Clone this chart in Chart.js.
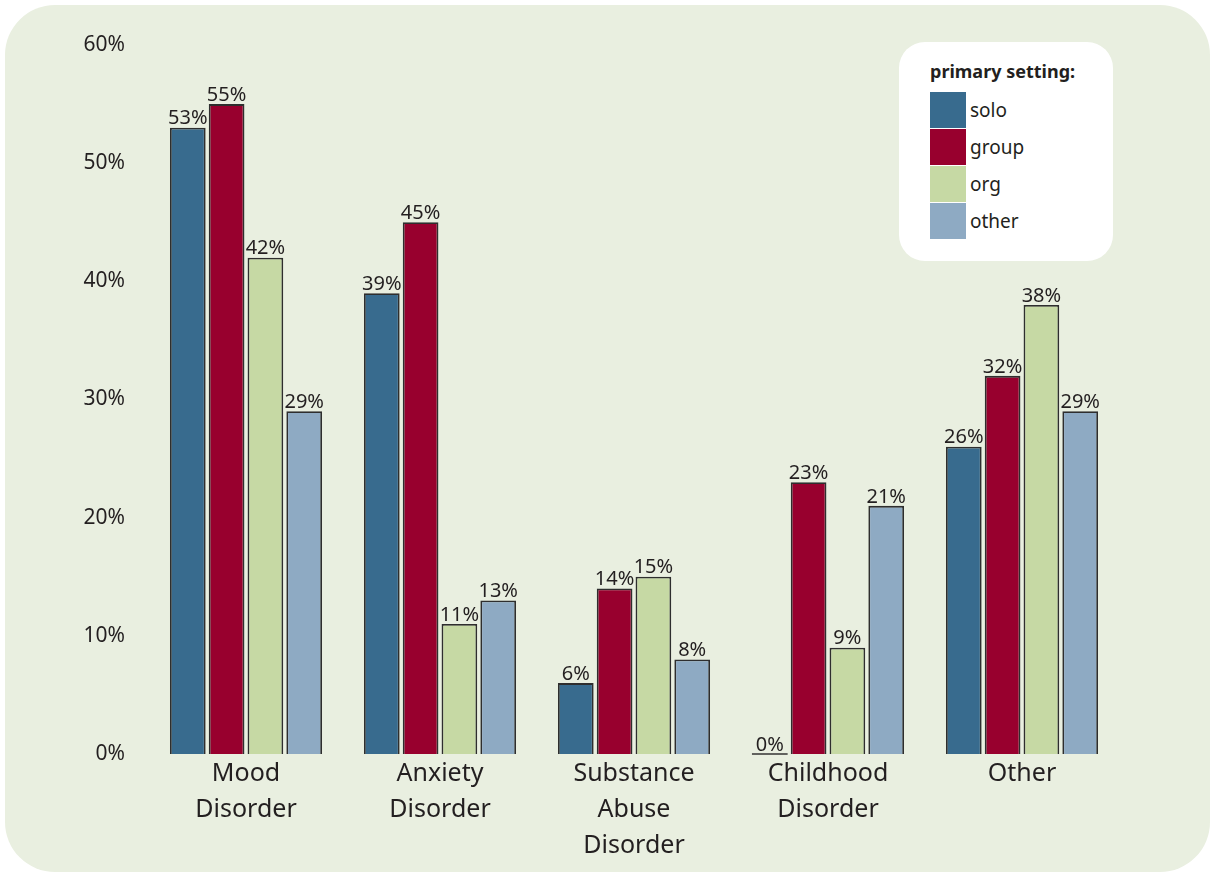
<!DOCTYPE html>
<html>
<head>
<meta charset="utf-8">
<script src="https://cdn.jsdelivr.net/npm/chart.js@4/dist/chart.umd.min.js"></script>
<style>
  html, body { margin: 0; padding: 0; background: #ffffff; }
  #wrap { position: relative; width: 1212px; height: 874px; }
  #legend {
    position: absolute; left: 899px; top: 42px; width: 214px; height: 219px;
    background: #ffffff; border-radius: 26px; box-sizing: border-box;
    padding: 17px 0 0 31px; font-family: "Noto Sans", sans-serif; color: #231f20;
  }
  #legend .title { font-weight: bold; font-size: 18px; margin-bottom: 8px; }
  #legend .row { display: flex; align-items: center; height: 37px; }
  #legend .sw { width: 36px; height: 36px; margin-right: 4px; }
  #legend .lbl { font-size: 19px; }
</style>
</head>
<body>
<div id="wrap">
  <canvas id="chart" width="1212" height="874"></canvas>
  <div id="legend"><div class="title">primary setting:</div></div>
</div>
<script>
const categories = [['Mood', 'Disorder'], ['Anxiety', 'Disorder'], ['Substance', 'Abuse', 'Disorder'], ['Childhood', 'Disorder'], 'Other'];
const seriesNames = ['solo', 'group', 'org', 'other'];
const seriesColors = ['#386b8e', '#98002e', '#c6d9a4', '#8eaac3'];
const solo  = [53, 39, 6, 0, 26];
const group = [55, 45, 14, 23, 32];
const org   = [42, 11, 15, 9, 38];
const other = [29, 13, 8, 21, 29];
const yTicks = [0, 10, 20, 30, 40, 50, 60];

const FONT = '"Noto Sans", sans-serif';
const INK = '#231f20';

// rounded green panel behind everything
const panel = {
  id: 'panel',
  beforeDraw(chart) {
    const c = chart.ctx;
    c.save();
    c.fillStyle = '#e9efe0';
    c.beginPath();
    c.roundRect(5, 5, 1205, 867, 50);
    c.fill();
    c.restore();
  }
};

// percentage labels above each bar, plus a baseline stroke for zero bars
const valueLabels = {
  id: 'valueLabels',
  afterDatasetsDraw(chart) {
    const c = chart.ctx;
    c.save();
    c.font = '20px ' + FONT;
    c.fillStyle = INK;
    c.textAlign = 'center';
    c.textBaseline = 'bottom';
    chart.data.datasets.forEach((ds, i) => {
      chart.getDatasetMeta(i).data.forEach((bar, j) => {
        const v = ds.data[j];
        c.fillText(v + '%', bar.x, bar.y + 1);
        if (v === 0) {
          c.strokeStyle = '#333333';
          c.lineWidth = 1.5;
          c.beginPath();
          c.moveTo(bar.x - bar.width / 2, bar.y);
          c.lineTo(bar.x + bar.width / 2, bar.y);
          c.stroke();
        }
      });
    });
    c.restore();
  }
};

const series = [solo, group, org, other];
const chart = new Chart(document.getElementById('chart'), {
  type: 'bar',
  data: {
    labels: categories,
    datasets: series.map((d, i) => ({
      label: seriesNames[i],
      data: d,
      backgroundColor: seriesColors[i],
      borderColor: '#2e2e2e',
      borderWidth: 1.8,
      borderSkipped: 'bottom',
      categoryPercentage: 0.8,
      barPercentage: 0.92
    }))
  },
  options: {
    responsive: false,
    animation: false,
    layout: { padding: { top: 45, right: 93, left: 0, bottom: 0 } },
    plugins: { legend: { display: false }, tooltip: { enabled: false } },
    scales: {
      y: {
        min: 0, max: 60,
        afterBuildTicks(s) { s.ticks = yTicks.map(v => ({ value: v })); },
        afterFit(s) { s.width = 149; },
        grid: { display: false, drawTicks: false },
        border: { display: false },
        ticks: { padding: 24, color: INK, font: { family: FONT, size: 21 }, callback: v => v + '%' }
      },
      x: {
        afterFit(s) { s.height = 874 - 754; },
        grid: { display: false, drawTicks: false },
        border: { display: false },
        ticks: { padding: 2, color: INK, font: { family: FONT, size: 25, lineHeight: 1.44 }, maxRotation: 0, autoSkip: false }
      }
    }
  },
  plugins: [panel, valueLabels]
});

const legend = document.getElementById('legend');
seriesNames.forEach((name, i) => {
  const row = document.createElement('div');
  row.className = 'row';
  row.innerHTML = '<div class="sw" style="background:' + seriesColors[i] + '"></div><span class="lbl">' + name + '</span>';
  legend.appendChild(row);
});
</script>
</body>
</html>
